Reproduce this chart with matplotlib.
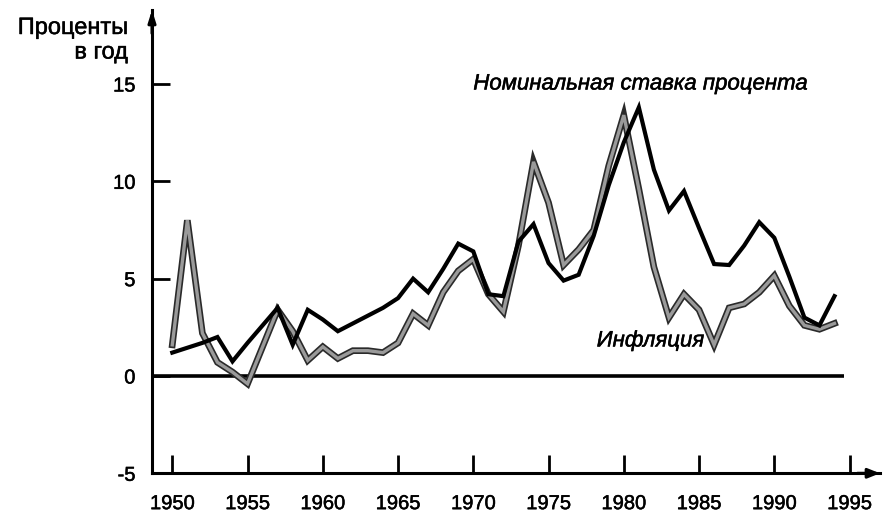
import matplotlib
matplotlib.use("Agg")
import matplotlib.pyplot as plt
import matplotlib.patheffects as pe

plt.rcParams['font.family'] = ['Liberation Sans', 'DejaVu Sans']

years = list(range(1950, 1995))

# Nominal interest rate, percent per year
nominal = [1.2, 1.45, 1.7, 2.0, 0.75, 1.7, 2.6, 3.5, 1.6, 3.4,
           2.9, 2.3, 2.7, 3.1, 3.5, 4.0, 5.0, 4.3, 5.5, 6.8,
           6.4, 4.2, 4.1, 6.9, 7.8, 5.8, 4.9, 5.2, 7.2, 9.8,
           12.0, 13.8, 10.6, 8.5, 9.5, 7.6, 5.75, 5.7, 6.7, 7.9,
           7.1, 5.1, 3.0, 2.6, 4.1]

# Inflation, percent per year
inflation = [1.6, 8.0, 2.2, 0.7, 0.2, -0.4, 1.5, 3.4, 2.3, 0.8,
             1.5, 0.9, 1.3, 1.3, 1.2, 1.7, 3.2, 2.6, 4.3, 5.4,
             6.0, 4.2, 3.3, 6.7, 11.0, 8.9, 5.7, 6.5, 7.5, 10.8,
             13.4, 9.6, 5.6, 3.0, 4.2, 3.4, 1.6, 3.5, 3.7, 4.3,
             5.15, 3.6, 2.6, 2.4, 2.7]

xticks = list(range(1950, 2000, 5))
yticks = [-5, 0, 5, 10, 15]

W, H = 885, 523
fig = plt.figure(figsize=(W / 100, H / 100), dpi=100)

# axes frame in pixels: left edge at the y-axis, bottom at the -5 line
x0_px, x1_px = 152, 880
y_bot_px, y_top_px = 473.3, 10
ax = fig.add_axes([x0_px / W, 1 - y_bot_px / H,
                   (x1_px - x0_px) / W, (y_bot_px - y_top_px) / H])

px_per_year = 15.05
px_per_unit = (473.3 - 84) / 20
xmin = 1950 + (x0_px - 172.3) / px_per_year
xmax = 1950 + (x1_px - 172.3) / px_per_year
ymin = -5
ymax = -5 + (y_bot_px - y_top_px) / px_per_unit
ax.set_xlim(xmin, xmax)
ax.set_ylim(ymin, ymax)

for s in ['top', 'right']:
    ax.spines[s].set_visible(False)
for s in ['left', 'bottom']:
    ax.spines[s].set_linewidth(2.2)
    ax.spines[s].set_color('black')

heavy = [pe.withStroke(linewidth=0.35, foreground='black')]

ax.set_xticks(xticks)
ax.set_xticklabels([str(v) for v in xticks])
ax.set_yticks(yticks)
ax.set_yticklabels([str(v) for v in yticks])
ax.tick_params(axis='both', direction='in', length=13, width=2.0,
               labelsize=14.5, color='black')
ax.tick_params(axis='x', pad=15)
ax.tick_params(axis='y', pad=12)
for lbl in ax.get_xticklabels() + ax.get_yticklabels():
    lbl.set_path_effects(heavy)

# arrowheads at the ends of the axes
ax.annotate('', xy=(xmax, ymin), xytext=(xmax - 1.5, ymin),
            arrowprops=dict(arrowstyle='-|>,head_length=0.7,head_width=0.28',
                            color='black', lw=2.2, shrinkA=0, shrinkB=0),
            annotation_clip=False)
ax.annotate('', xy=(xmin, ymax), xytext=(xmin, ymax - 1.2),
            arrowprops=dict(arrowstyle='-|>,head_length=0.7,head_width=0.22',
                            color='black', lw=2.2, shrinkA=0, shrinkB=0),
            annotation_clip=False)

# zero line
ax.plot([xmin, 1994.6], [0, 0], color='black', lw=2.6, solid_capstyle='butt')

# inflation: grey stippled band with dark edges
ax.plot(years, inflation, color='#9a9a9a', lw=2.4, solid_joinstyle='miter',
        path_effects=[pe.Stroke(linewidth=4.8, foreground='#2a2a2a'),
                      pe.Normal()], zorder=3)

# nominal interest rate
ax.plot(years, nominal, color='black', lw=3.0, solid_joinstyle='miter',
        zorder=4)

ax.text(1970.0, 15.0, 'Номинальная ставка процента', fontsize=16,
        style='italic', ha='left', va='center', path_effects=heavy)
ax.text(1978.2, 1.8, 'Инфляция', fontsize=16, style='italic',
        ha='left', va='center', path_effects=heavy)

fig.text(128 / W, 1 - 17 / H, 'Проценты\nв год', fontsize=17,
         ha='right', va='top', multialignment='right', linespacing=1.15,
         path_effects=heavy)

fig.savefig('out.png', dpi=100, facecolor='white')
